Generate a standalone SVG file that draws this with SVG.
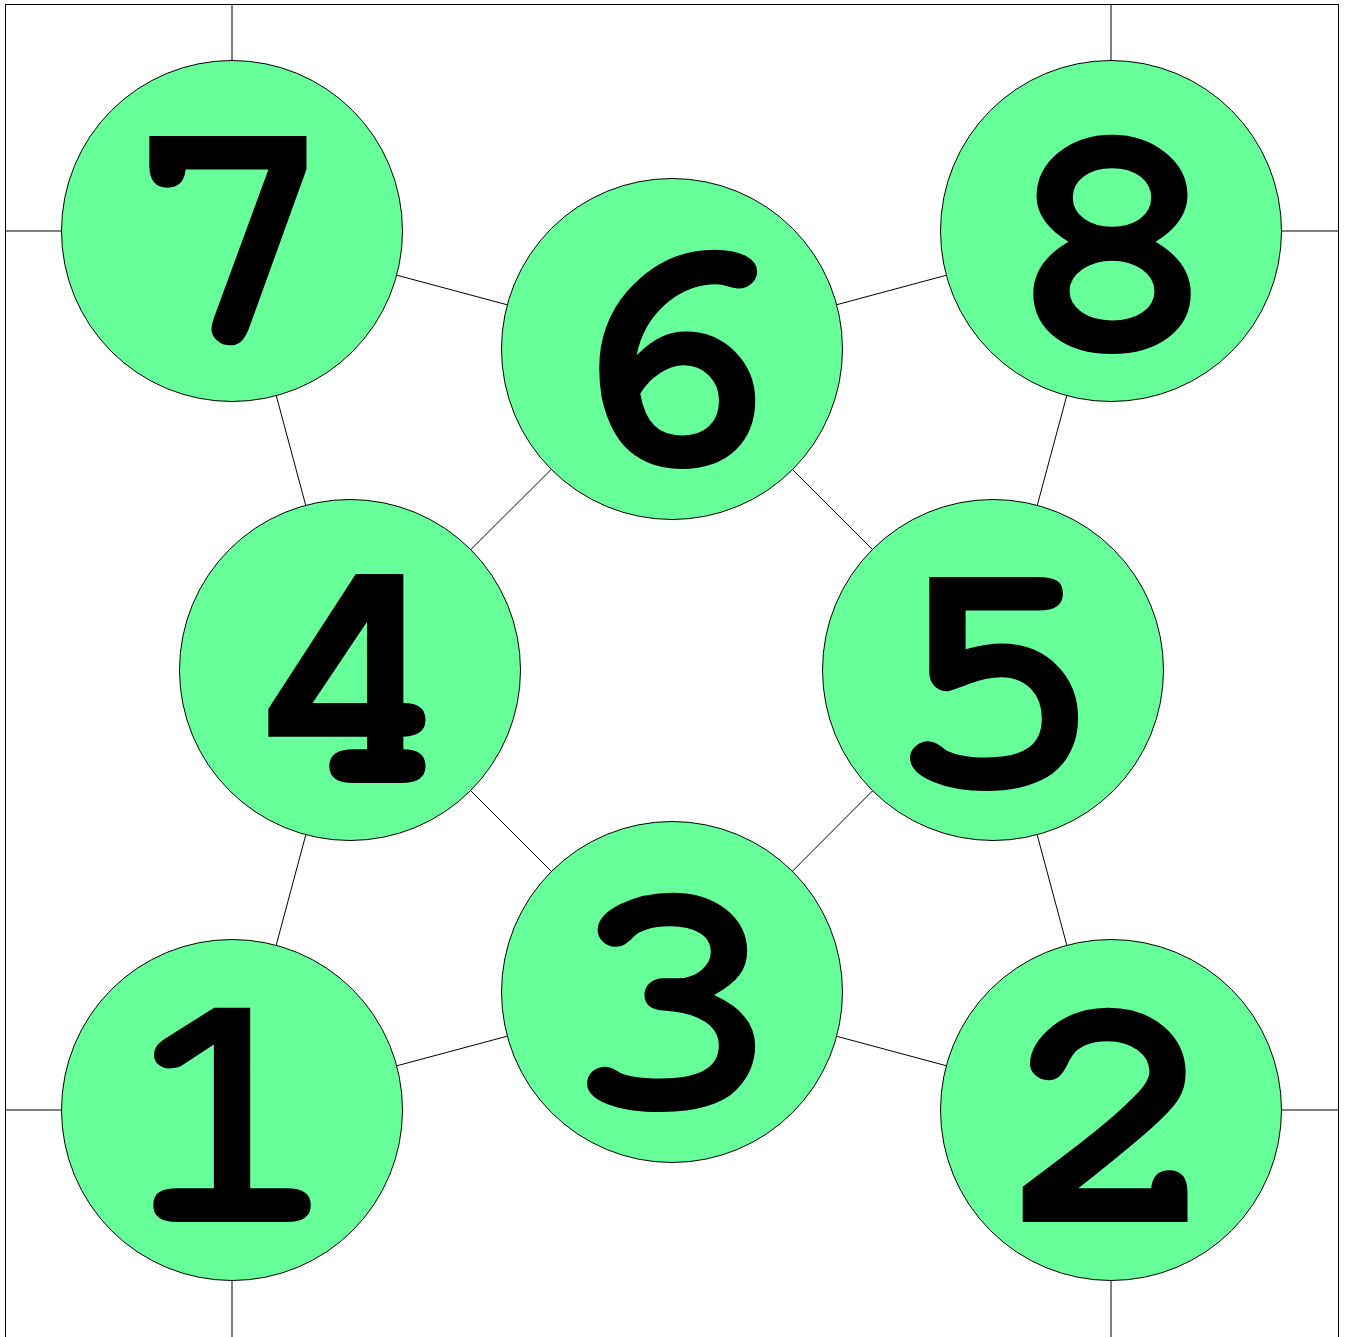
<svg xmlns="http://www.w3.org/2000/svg" width="1345" height="1337" viewBox="0 0 1345 1337">
<style>
.e{stroke:#000;stroke-width:1;fill:none}
.n circle{fill:#66FF99;stroke:#000;stroke-width:1}
.n text{font-family:"Nimbus Mono PS","Nimbus Mono L",FreeMono,"Courier New",Courier,"Liberation Mono",monospace;font-weight:bold;font-size:336px;text-anchor:middle;fill:#000}
</style>
<rect x="0" y="0" width="1345" height="1337" fill="#fff"/>
<g id="connectors">
<rect class="e" x="5.5" y="4.5" width="1333" height="1340"/>
<line class="e" x1="232" y1="4" x2="232" y2="231"/>
<line class="e" x1="5" y1="231" x2="232" y2="231"/>
<line class="e" x1="1111" y1="4" x2="1111" y2="231"/>
<line class="e" x1="1111" y1="231" x2="1339" y2="231"/>
<line class="e" x1="5" y1="1110" x2="232" y2="1110"/>
<line class="e" x1="232" y1="1110" x2="232" y2="1337"/>
<line class="e" x1="1111" y1="1110" x2="1339" y2="1110"/>
<line class="e" x1="1111" y1="1110" x2="1111" y2="1337"/>
<line class="e" x1="232" y1="231" x2="672" y2="349"/>
<line class="e" x1="232" y1="231" x2="350" y2="670"/>
<line class="e" x1="1111" y1="231" x2="672" y2="349"/>
<line class="e" x1="1111" y1="231" x2="993" y2="670"/>
<line class="e" x1="672" y1="349" x2="350" y2="670"/>
<line class="e" x1="672" y1="349" x2="993" y2="670"/>
<line class="e" x1="350" y1="670" x2="672" y2="992"/>
<line class="e" x1="993" y1="670" x2="672" y2="992"/>
<line class="e" x1="350" y1="670" x2="232" y2="1110"/>
<line class="e" x1="672" y1="992" x2="232" y2="1110"/>
<line class="e" x1="672" y1="992" x2="1111" y2="1110"/>
<line class="e" x1="993" y1="670" x2="1111" y2="1110"/>
</g>
<g id="n7" class="n"><circle cx="232" cy="231" r="170.5"/><text transform="translate(231,345) scale(1.08,1)">7</text></g>
<g id="n8" class="n"><circle cx="1111" cy="231" r="170.5"/><text transform="translate(1112,349) scale(1.08,1)">8</text></g>
<g id="n6" class="n"><circle cx="672" cy="349" r="170.5"/><text transform="translate(670,464) scale(1.08,1)">6</text></g>
<g id="n4" class="n"><circle cx="350" cy="670" r="170.5"/><text transform="translate(350,783) scale(1.08,1)">4</text></g>
<g id="n5" class="n"><circle cx="993" cy="670" r="170.5"/><text transform="translate(995,786) scale(1.08,1)">5</text></g>
<g id="n3" class="n"><circle cx="672" cy="992" r="170.5"/><text transform="translate(672,1107) scale(1.08,1)">3</text></g>
<g id="n1" class="n"><circle cx="232" cy="1110" r="170.5"/><text transform="translate(232,1222) scale(1.08,1)">1</text></g>
<g id="n2" class="n"><circle cx="1111" cy="1110" r="170.5"/><text transform="translate(1112,1222) scale(1.08,1)">2</text></g>
</svg>
